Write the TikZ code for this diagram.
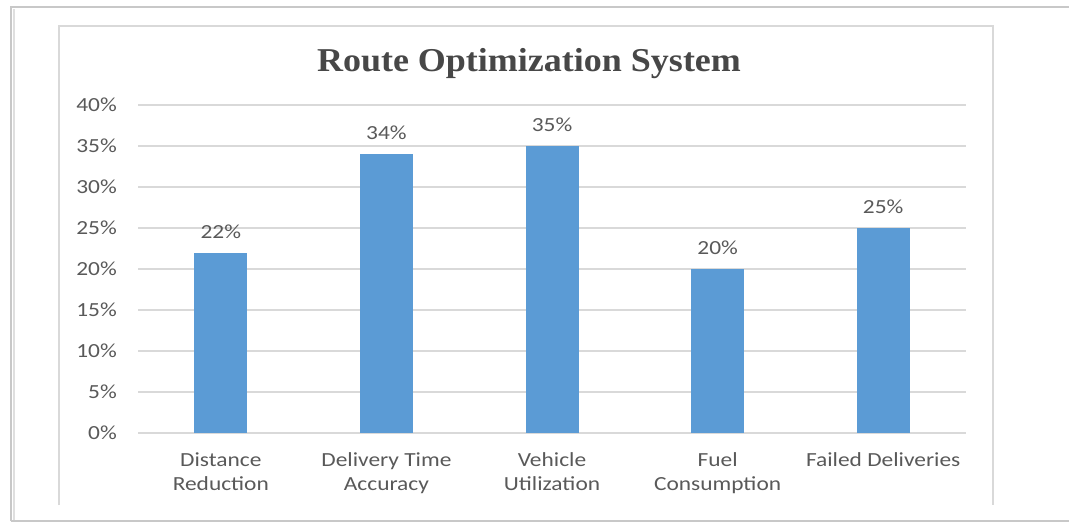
\documentclass[tikz,border=0pt]{standalone}
\usepackage{fontspec}
\setmainfont{Liberation Serif}
\newfontfamily\calib[FakeStretch=1.17]{Carlito}
\newfontfamily\titlefont[FakeStretch=1.08]{Liberation Serif}
\usepackage{xcolor}
\definecolor{barblue}{HTML}{5B9BD5}
\definecolor{gridgray}{HTML}{D9D9D9}
\definecolor{textgray}{HTML}{595959}
\definecolor{framegray}{HTML}{C8C8C8}

\begin{document}
\begin{tikzpicture}[x=0.75pt,y=-0.75pt,
  ticklabel/.style={font=\calib\fontsize{15}{18}\selectfont,text=textgray,anchor=east,inner sep=0pt},
  catlabel/.style={font=\calib\fontsize{15}{18}\selectfont,text=textgray,align=center,anchor=north,inner sep=0pt},
  vallabel/.style={font=\calib\fontsize{15}{18}\selectfont,text=textgray,inner sep=0pt},
  bar/.style={fill=barblue,draw=none}]
\useasboundingbox (0,0) rectangle (1069,522);
% outer frame with shadow
\draw [framegray,line width=1.5pt] (11,521) -- (11,7) -- (1069,7);
\draw [gray!25,line width=2pt] (14,521) -- (14,9);
\draw [framegray,line width=1.2pt] (11,521) -- (1069,521);
% chart area
\draw [gridgray,line width=0.9pt] (59,505) -- (59,26) -- (993,26) -- (993,505);
\node [font=\titlefont\bfseries\fontsize{25}{30}\selectfont,text=textgray!80!black] (title) at (529,64) {Route Optimization System};
% grid and y labels
\foreach \v in {0,5,...,40} {
  \draw [gridgray,line width=0.9pt] (138,433-8.2*\v) -- (966,433-8.2*\v);
  \node [ticklabel] (tick\v) at (117,433-8.2*\v) {\v\%};
}
% bars
\foreach \i/\v in {1/22,2/34,3/35,4/20,5/25} {
  \path [bar] (138+165.6*\i-82.8-26.5,433) rectangle (138+165.6*\i-82.8+26.5,433-8.2*\v);
  \node [vallabel] (val\i) at (138+165.6*\i-82.8,433-8.2*\v-21) {\v\%};
}
% category labels
\node [catlabel] (cat1) at (220.8,449) {\strut Distance\\Reduction};
\node [catlabel] (cat2) at (386.4,449) {\strut Delivery Time\\Accuracy};
\node [catlabel] (cat3) at (552,449) {\strut Vehicle\\Utilization};
\node [catlabel] (cat4) at (717.6,449) {\strut Fuel\\Consumption};
\node [catlabel] (cat5) at (883.2,449) {\strut Failed Deliveries};
\end{tikzpicture}
\end{document}
